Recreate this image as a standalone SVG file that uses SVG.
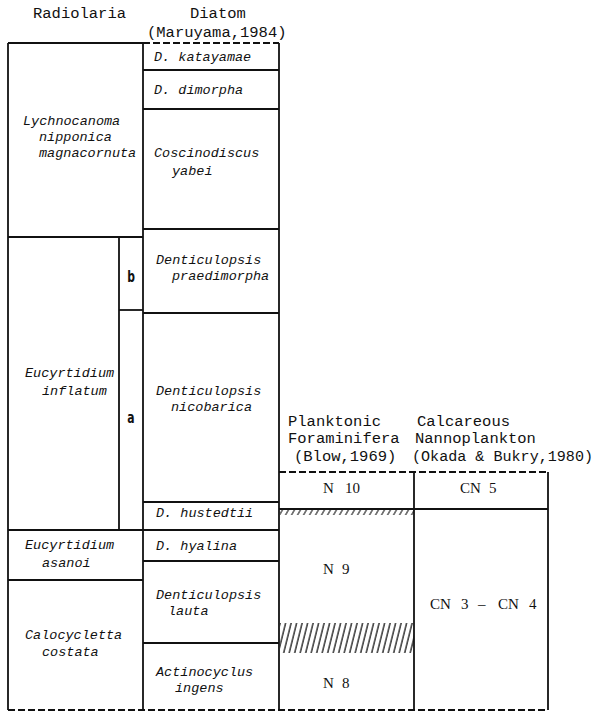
<svg xmlns="http://www.w3.org/2000/svg" width="604" height="713" viewBox="0 0 604 713">
<style>
.ln{stroke:#111;stroke-width:1.8;fill:none}
.dl{stroke:#111;stroke-width:2;fill:none;stroke-dasharray:7 3}
.hd{font-family:"Liberation Mono",monospace;font-size:15.5px;fill:#111}
.it{font-family:"Liberation Mono",monospace;font-style:italic;font-size:13.5px;fill:#111}
.bd{font-family:"DejaVu Sans Condensed","Liberation Sans",sans-serif;font-weight:bold;font-size:16px;fill:#111;text-anchor:middle}
.sf{font-family:"Liberation Serif",serif;font-size:15px;fill:#111}
</style>
<defs>
<pattern id="hatch" width="5.5" height="10" patternUnits="userSpaceOnUse" patternTransform="skewX(-14)">
<line x1="1" y1="-1" x2="1" y2="11" stroke="#111" stroke-width="1.3"/>
</pattern>
<pattern id="tick" width="6" height="10" patternUnits="userSpaceOnUse" patternTransform="translate(0,509) skewX(-30)">
<line x1="1" y1="-1" x2="1" y2="11" stroke="#111" stroke-width="1.2"/>
</pattern>
</defs>
<g id="headers">
<text class="hd" x="33" y="18">Radiolaria</text>
<text class="hd" x="190" y="18">Diatom</text>
<text class="hd" x="147" y="37">(Maruyama,1984)</text>
<text class="hd" x="288" y="426">Planktonic</text>
<text class="hd" x="417" y="426">Calcareous</text>
<text class="hd" x="288" y="443">Foraminifera</text>
<text class="hd" x="415" y="443">Nannoplankton</text>
<text class="hd" x="294" y="461">(Blow,1969)</text>
<text class="hd" x="412" y="461" textLength="181" lengthAdjust="spacingAndGlyphs">(Okada &amp; Bukry,1980)</text>
</g>
<g id="frame">
<line class="ln" x1="8" y1="43" x2="143" y2="43"/>
<line class="dl" x1="143" y1="43" x2="279" y2="43"/>
<line class="dl" x1="279" y1="472" x2="548" y2="472"/>
<line class="dl" x1="8" y1="710" x2="548" y2="710"/>
<line class="ln" x1="8" y1="43" x2="8" y2="710"/>
<line class="ln" x1="143" y1="43" x2="143" y2="710"/>
<line class="ln" x1="279" y1="43" x2="279" y2="710"/>
<line class="ln" x1="414" y1="472" x2="414" y2="710"/>
<line class="ln" x1="548" y1="472" x2="548" y2="710"/>
<line class="ln" x1="119" y1="237" x2="119" y2="530"/>
</g>
<g id="radiolaria">
<line class="ln" x1="8" y1="237" x2="143" y2="237"/>
<line class="ln" x1="119" y1="310" x2="143" y2="310"/>
<line class="ln" x1="8" y1="530" x2="143" y2="530"/>
<line class="ln" x1="8" y1="580" x2="143" y2="580"/>
<g id="r-lychnocanoma"><text class="it" x="23" y="125">Lychnocanoma</text><text class="it" x="39" y="141">nipponica</text><text class="it" x="39" y="157">magnacornuta</text></g>
<g id="r-inflatum"><text class="it" x="25" y="377">Eucyrtidium</text><text class="it" x="42" y="395">inflatum</text></g>
<g id="r-b"><text class="bd" transform="translate(131 282) scale(0.75 1)">b</text></g>
<g id="r-a"><text class="bd" transform="translate(131 423) scale(0.75 1)">a</text></g>
<g id="r-asanoi"><text class="it" x="25" y="549">Eucyrtidium</text><text class="it" x="42" y="567">asanoi</text></g>
<g id="r-costata"><text class="it" x="25" y="639">Calocycletta</text><text class="it" x="42" y="656">costata</text></g>
</g>
<g id="diatom">
<line class="ln" x1="143" y1="70" x2="279" y2="70"/>
<line class="ln" x1="143" y1="109" x2="279" y2="109"/>
<line class="ln" x1="143" y1="229" x2="279" y2="229"/>
<line class="ln" x1="143" y1="313" x2="279" y2="313"/>
<line class="ln" x1="143" y1="502" x2="279" y2="502"/>
<line class="ln" x1="143" y1="530" x2="279" y2="530"/>
<line class="ln" x1="143" y1="561" x2="279" y2="561"/>
<line class="ln" x1="143" y1="643" x2="279" y2="643"/>
<g id="d-katayamae"><text class="it" x="154" y="61">D. katayamae</text></g>
<g id="d-dimorpha"><text class="it" x="154" y="94">D. dimorpha</text></g>
<g id="d-yabei"><text class="it" x="154" y="157">Coscinodiscus</text><text class="it" x="172" y="175">yabei</text></g>
<g id="d-praedimorpha"><text class="it" x="156" y="264">Denticulopsis</text><text class="it" x="172" y="280">praedimorpha</text></g>
<g id="d-nicobarica"><text class="it" x="156" y="395">Denticulopsis</text><text class="it" x="171" y="411">nicobarica</text></g>
<g id="d-hustedtii"><text class="it" x="156" y="517">D. hustedtii</text></g>
<g id="d-hyalina"><text class="it" x="156" y="550">D. hyalina</text></g>
<g id="d-lauta"><text class="it" x="156" y="599">Denticulopsis</text><text class="it" x="168" y="615">lauta</text></g>
<g id="d-ingens"><text class="it" x="156" y="676">Actinocyclus</text><text class="it" x="175" y="692">ingens</text></g>
</g>
<g id="foraminifera">
<line class="ln" x1="279" y1="509" x2="414" y2="509"/>
<rect x="280" y="509" width="134" height="6" fill="url(#tick)"/>
<rect x="280" y="623" width="134" height="30" fill="url(#hatch)"/>
<g id="f-n10"><text class="sf" x="323" y="493">N</text><text class="sf" x="345" y="493">10</text></g>
<g id="f-n9"><text class="sf" x="323" y="574">N</text><text class="sf" x="342" y="574">9</text></g>
<g id="f-n8"><text class="sf" x="323" y="688">N</text><text class="sf" x="342" y="688">8</text></g>
</g>
<g id="nannoplankton">
<line class="ln" x1="414" y1="509" x2="548" y2="509"/>
<g id="n-cn5"><text class="sf" x="460" y="493">CN</text><text class="sf" x="489" y="493">5</text></g>
<g id="n-cn34"><text class="sf" x="430" y="609">CN</text><text class="sf" x="461" y="609">3</text><text class="sf" x="478" y="609">–</text><text class="sf" x="498" y="609">CN</text><text class="sf" x="529" y="609">4</text></g>
</g>
</svg>
